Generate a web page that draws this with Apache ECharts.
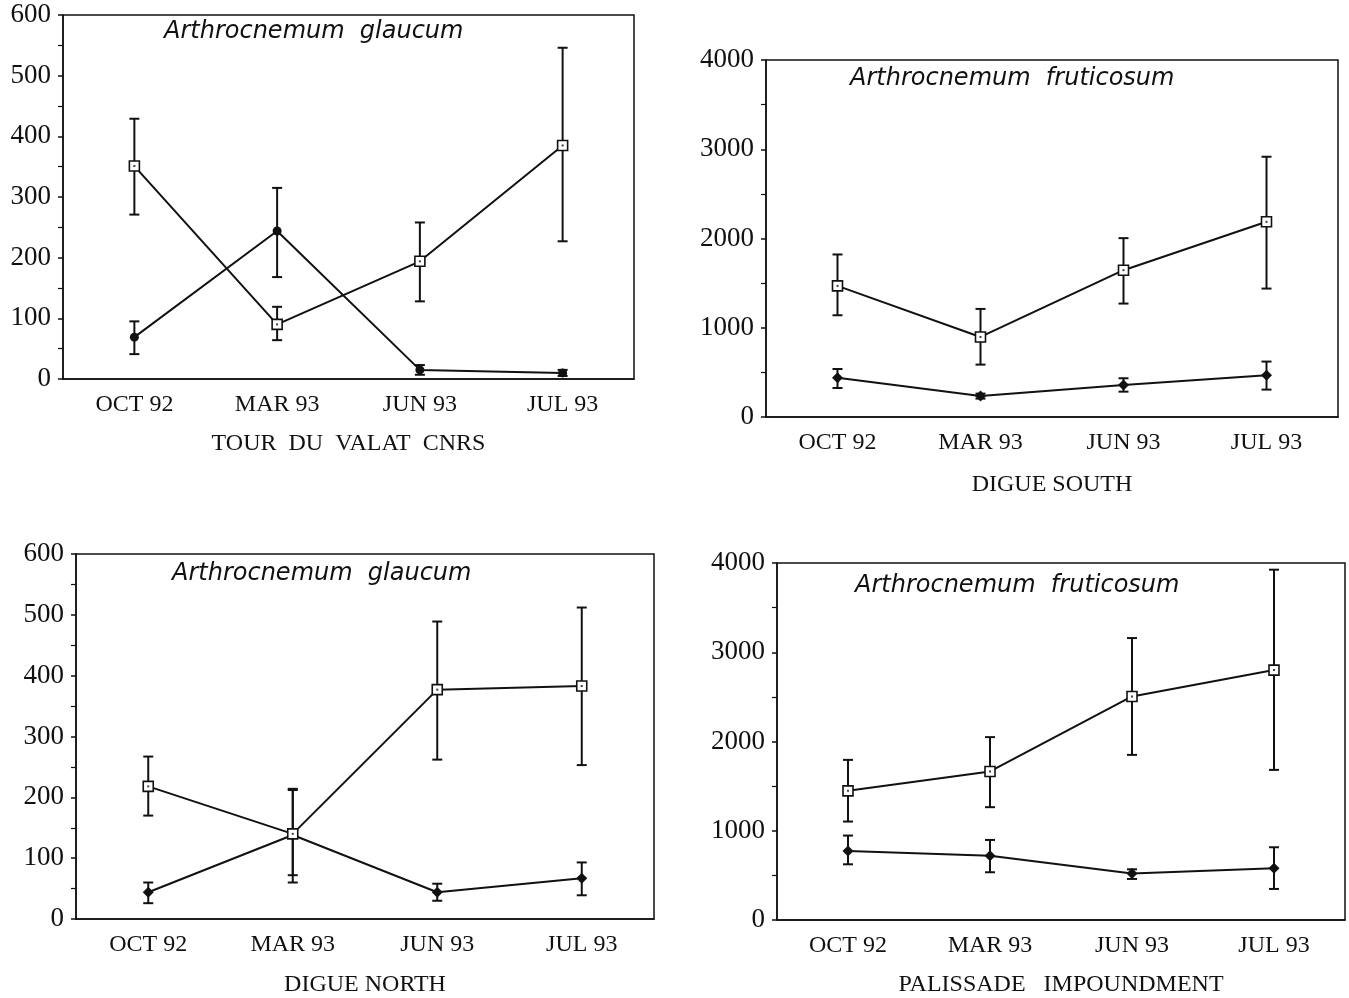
<!DOCTYPE html>
<html><head><meta charset="utf-8">
<script src="https://cdn.jsdelivr.net/npm/echarts@6/dist/echarts.min.js"></script>
<style>html,body{margin:0;padding:0;background:#fff}#c{width:1349px;height:998px}</style>
</head><body><div id="c"></div>
<script>
const categories = ['OCT 92', 'MAR 93', 'JUN 93', 'JUL 93'];

// Panel 1: Tour du Valat CNRS (Arthrocnemum glaucum)
const p1Square = [351, 90, 194, 385];
const p1SquareLow = [271, 64, 128, 227];
const p1SquareHigh = [429, 119, 258, 546];
const p1Filled = [69, 244, 15, 10];
const p1FilledLow = [41, 168, 7, 5];
const p1FilledHigh = [95, 315, 23, 15];

// Panel 2: Digue South (Arthrocnemum fruticosum)
const p2Square = [1469, 897, 1645, 2187];
const p2SquareLow = [1140, 587, 1271, 1439];
const p2SquareHigh = [1821, 1211, 2004, 2916];
const p2Filled = [441, 235, 359, 467];
const p2FilledLow = [325, 206, 284, 307];
const p2FilledHigh = [538, 262, 434, 621];

// Panel 3: Digue North (Arthrocnemum glaucum)
const p3Square = [218, 140, 377, 383];
const p3SquareLow = [170, 60, 262, 253];
const p3SquareHigh = [267, 214, 489, 512];
const p3Filled = [44, 138, 44, 67];
const p3FilledLow = [26, 72, 30, 39];
const p3FilledHigh = [60, 212, 58, 93];

// Panel 4: Palissade Impoundment (Arthrocnemum fruticosum)
const p4Square = [1447, 1664, 2505, 2800];
const p4SquareLow = [1103, 1264, 1850, 1682];
const p4SquareHigh = [1794, 2049, 3159, 3925];
const p4Filled = [774, 721, 520, 579];
const p4FilledLow = [624, 535, 460, 348];
const p4FilledHigh = [946, 897, 568, 815];

const titles = ['Arthrocnemum  glaucum', 'Arthrocnemum  fruticosum', 'Arthrocnemum  glaucum', 'Arthrocnemum  fruticosum'];
const siteNames = ['TOUR  DU  VALAT  CNRS', 'DIGUE SOUTH', 'DIGUE NORTH', 'PALISSADE   IMPOUNDMENT'];
const yMax = [600, 4000, 600, 4000];
const yInterval = [100, 1000, 100, 1000];

const panels = [
  {sq: p1Square, sqLo: p1SquareLow, sqHi: p1SquareHigh, fl: p1Filled, flLo: p1FilledLow, flHi: p1FilledHigh, sym: 'circle', symSize: 9},
  {sq: p2Square, sqLo: p2SquareLow, sqHi: p2SquareHigh, fl: p2Filled, flLo: p2FilledLow, flHi: p2FilledHigh, sym: 'diamond', symSize: 11},
  {sq: p3Square, sqLo: p3SquareLow, sqHi: p3SquareHigh, fl: p3Filled, flLo: p3FilledLow, flHi: p3FilledHigh, sym: 'diamond', symSize: 11},
  {sq: p4Square, sqLo: p4SquareLow, sqHi: p4SquareHigh, fl: p4Filled, flLo: p4FilledLow, flHi: p4FilledHigh, sym: 'diamond', symSize: 11}
];

const gridPos = [
  {left: 63, top: 15, width: 571, height: 364},
  {left: 766, top: 60, width: 572, height: 357},
  {left: 76, top: 554, width: 578, height: 366},
  {left: 777, top: 563, width: 568, height: 357}
];
const titlePos = [
  {left: 164, top: 20},
  {left: 850, top: 67},
  {left: 172, top: 562},
  {left: 855, top: 574}
];
const nameGaps = [53, 56, 54, 53];

const serif = '"Liberation Serif", "Times New Roman", serif';
const black = '#111';

function errRender(params, api) {
  const i = api.value(0);
  const p1 = api.coord([i, api.value(1)]);
  const p2 = api.coord([i, api.value(2)]);
  const w = 5;
  const st = {stroke: black, lineWidth: 2};
  return {type: 'group', children: [
    {type: 'line', shape: {x1: p1[0], y1: p1[1], x2: p2[0], y2: p2[1]}, style: st},
    {type: 'line', shape: {x1: p1[0] - w, y1: p1[1], x2: p1[0] + w, y2: p1[1]}, style: st},
    {type: 'line', shape: {x1: p2[0] - w, y1: p2[1], x2: p2[0] + w, y2: p2[1]}, style: st}
  ]};
}

const option = {
  backgroundColor: '#fff',
  animation: false,
  title: titles.map((t, k) => ({
    text: t, left: titlePos[k].left, top: titlePos[k].top, padding: 0,
    textStyle: {fontFamily: '"DejaVu Sans", sans-serif', fontStyle: 'italic', fontWeight: 'normal', fontSize: 24, color: black}
  })),
  grid: gridPos.map(g => Object.assign({show: true, borderColor: black, borderWidth: 1.5, backgroundColor: 'transparent', containLabel: false}, g)),
  xAxis: gridPos.map((g, k) => ({
    type: 'category', gridIndex: k, data: categories, boundaryGap: true,
    name: siteNames[k], nameLocation: 'middle', nameGap: nameGaps[k],
    nameTextStyle: {fontFamily: serif, fontSize: 24, color: black},
    axisLine: {lineStyle: {color: black, width: 1.5}},
    axisTick: {alignWithLabel: true, length: 8, lineStyle: {color: black, width: 1.5}},
    axisLabel: {fontFamily: serif, fontSize: 24, color: black, margin: 14},
    splitLine: {show: false}
  })),
  yAxis: gridPos.map((g, k) => ({
    type: 'value', gridIndex: k, min: 0, max: yMax[k], interval: yInterval[k],
    axisLine: {show: true, lineStyle: {color: black, width: 1.5}},
    axisTick: {show: true, length: 5, lineStyle: {color: black, width: 1.5}},
    minorTick: {show: true, splitNumber: 2, length: 5, lineStyle: {color: black, width: 1.2}},
    axisLabel: {fontFamily: serif, fontSize: 27, color: black, margin: 12, formatter: v => String(v)},
    splitLine: {show: false}
  })),
  series: []
};

panels.forEach((p, k) => {
  const mk = (lo, hi) => categories.map((c, i) => [i, lo[i], hi[i]]);
  option.series.push({type: 'custom', xAxisIndex: k, yAxisIndex: k, renderItem: errRender, data: mk(p.sqLo, p.sqHi), encode: {x: 0, y: [1, 2]}, z: 2, silent: true});
  option.series.push({type: 'custom', xAxisIndex: k, yAxisIndex: k, renderItem: errRender, data: mk(p.flLo, p.flHi), encode: {x: 0, y: [1, 2]}, z: 2, silent: true});
  option.series.push({type: 'line', xAxisIndex: k, yAxisIndex: k, data: p.fl, symbol: p.sym, symbolSize: p.symSize, showAllSymbol: true,
    lineStyle: {color: black, width: 2}, itemStyle: {color: black, borderColor: black, borderWidth: 0}, z: 3});
  option.series.push({type: 'line', xAxisIndex: k, yAxisIndex: k, data: p.sq, symbol: 'rect', symbolSize: 10, showAllSymbol: true,
    lineStyle: {color: black, width: 2}, itemStyle: {color: '#fff', borderColor: black, borderWidth: 1.6}, z: 4});
  option.series.push({type: 'scatter', xAxisIndex: k, yAxisIndex: k, data: p.sq, symbol: 'rect', symbolSize: 2,
    itemStyle: {color: black}, z: 5, silent: true});
});

const chart = echarts.init(document.getElementById('c'), null, {renderer: 'canvas'});
chart.setOption(option);
</script>
</body></html>
